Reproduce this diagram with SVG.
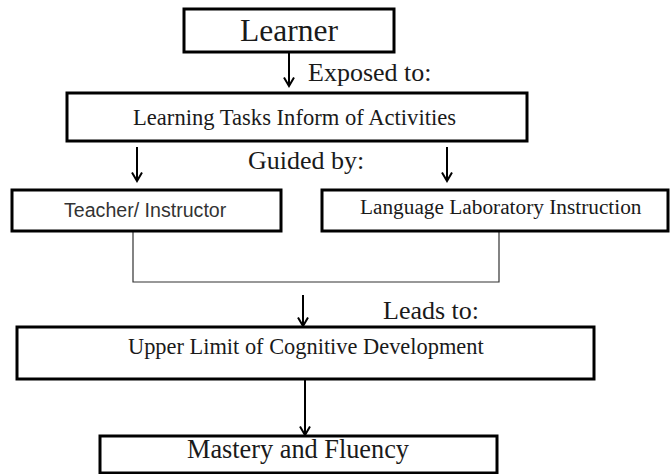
<svg xmlns="http://www.w3.org/2000/svg" width="671" height="474" viewBox="0 0 671 474">
  <style>
    .box { fill: #fff; stroke: #000; stroke-width: 3; }
    .serif { font-family: "Liberation Serif", "Times New Roman", serif; fill: #1a1a1a; }
    .sans { font-family: "Liberation Sans", Arial, sans-serif; fill: #333; }
    .flow { stroke: #000; stroke-width: 2; fill: none; }
    .join { stroke: #333; stroke-width: 1.2; fill: none; }
  </style>
  <defs>
    <!-- open V arrowhead, tip at the end of the line -->
    <marker id="head" markerUnits="userSpaceOnUse" markerWidth="12" markerHeight="12" refX="10.5" refY="6" orient="auto" viewBox="0 0 12 12">
      <path d="M2,1 L10.5,6 L2,11" fill="none" stroke="#000" stroke-width="2" stroke-linejoin="miter"/>
    </marker>
  </defs>
  <rect width="671" height="474" fill="#fff"/>

  <g id="connectors">
    <path class="flow" d="M289,52 V86" marker-end="url(#head)"/>
    <path class="flow" d="M137,147 V181" marker-end="url(#head)"/>
    <path class="flow" d="M447,147 V181" marker-end="url(#head)"/>
    <path class="join" d="M133,231 V282 H499 V231"/>
    <path class="flow" d="M303,295 V326" marker-end="url(#head)"/>
    <path class="flow" d="M305,379 V435" marker-end="url(#head)"/>
  </g>

  <g id="learner">
    <rect class="box" x="184" y="9" width="210" height="43"/>
    <text class="serif" x="289" y="41" font-size="31.5" text-anchor="middle">Learner</text>
  </g>

  <g id="label-exposed">
    <text class="serif" x="308" y="81" font-size="26">Exposed to:</text>
  </g>

  <g id="learning-tasks">
    <rect class="box" x="67" y="93" width="460" height="48"/>
    <text class="serif" x="133" y="125" font-size="22.6">Learning Tasks Inform of Activities</text>
  </g>

  <g id="label-guided">
    <text class="serif" x="248" y="169" font-size="26">Guided by:</text>
  </g>

  <g id="teacher">
    <rect class="box" x="12" y="190" width="269" height="41"/>
    <text class="sans" x="64" y="217" font-size="19.6">Teacher/ Instructor</text>
  </g>

  <g id="language-lab">
    <rect class="box" x="322" y="190" width="346" height="41"/>
    <text class="serif" x="360" y="214" font-size="21.3">Language Laboratory Instruction</text>
  </g>

  <g id="label-leads">
    <text class="serif" x="383" y="319" font-size="26">Leads to:</text>
  </g>

  <g id="upper-limit">
    <rect class="box" x="17" y="327" width="577" height="52"/>
    <text class="serif" x="128" y="354" font-size="22.4">Upper Limit of Cognitive Development</text>
  </g>

  <g id="mastery">
    <rect class="box" x="100" y="436" width="397" height="37"/>
    <text class="serif" x="187" y="458" font-size="26.3">Mastery and Fluency</text>
  </g>
</svg>
